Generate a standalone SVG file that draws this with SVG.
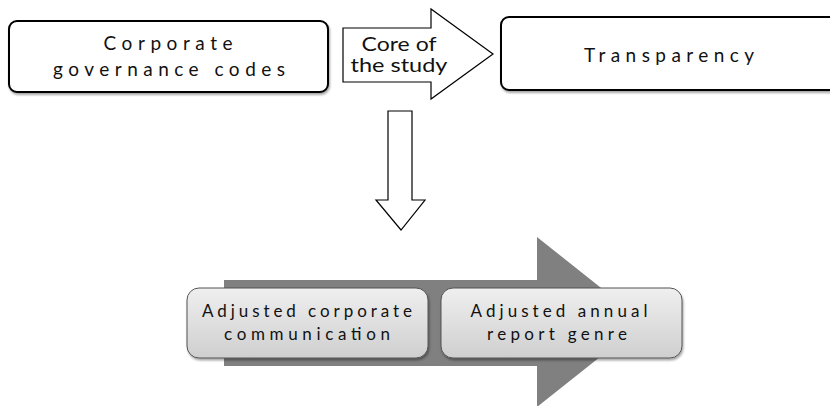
<svg xmlns="http://www.w3.org/2000/svg" width="830" height="406" viewBox="0 0 830 406">
<defs>
<linearGradient id="g" x1="0" y1="0" x2="0" y2="1">
<stop offset="0" stop-color="#efefef"/>
<stop offset="1" stop-color="#cfcfcf"/>
</linearGradient>
<filter id="sh" x="-10%" y="-10%" width="120%" height="130%">
<feDropShadow dx="1" dy="2" stdDeviation="1.2" flood-color="#000" flood-opacity="0.35"/>
</filter>
<style>
text{font-family:Lato,"Open Sans","Liberation Sans",sans-serif;fill:#111;text-anchor:middle}
.box{fill:#fff;stroke:#000;stroke-width:2}
.arr{fill:#fff;stroke:#000;stroke-width:1.2}
.gbox{fill:url(#g);stroke:#555;stroke-width:1}
.t19{font-size:19px}
.t17{font-size:17px}
</style>
</defs>
<rect width="830" height="406" fill="#fff"/>
<g id="connectors">
<polygon class="arr" points="343,28 431,28 431,9 493,54 431,99 431,82 343,82"/>
<polygon class="arr" points="388,111 412,111 412,200 425,200 401,230 376,200 388,200"/>
<polygon fill="#808080" points="224,280 537,280 537,237 644,322 537,407 537,366 224,366"/>
</g>
<g id="core-label">
<text class="t19" x="399" y="51" textLength="75" lengthAdjust="spacingAndGlyphs">Core of</text>
<text class="t19" x="399" y="72" textLength="97" lengthAdjust="spacingAndGlyphs">the study</text>
</g>
<g id="node-codes">
<rect class="box" x="9" y="21" width="319" height="71" rx="8" filter="url(#sh)"/>
<text class="t19" x="168" y="50" textLength="129" lengthAdjust="spacing">Corporate</text>
<text class="t19" x="169" y="76" textLength="232" lengthAdjust="spacing">governance codes</text>
</g>
<g id="node-transparency">
<rect class="box" x="501" y="17" width="340" height="73" rx="8" filter="url(#sh)"/>
<text class="t19" x="669" y="62" textLength="170" lengthAdjust="spacing">Transparency</text>
</g>
<g id="node-communication">
<rect class="gbox" x="187" y="288" width="241" height="70" rx="12" filter="url(#sh)"/>
<text class="t17" x="307" y="317" textLength="210" lengthAdjust="spacing">Adjusted  corporate</text>
<text class="t17" x="307" y="340" textLength="166" lengthAdjust="spacing">communication</text>
</g>
<g id="node-genre">
<rect class="gbox" x="441" y="288" width="241" height="70" rx="12" filter="url(#sh)"/>
<text class="t17" x="559" y="317" textLength="177" lengthAdjust="spacing">Adjusted annual</text>
<text class="t17" x="557" y="340" textLength="140" lengthAdjust="spacing">report genre</text>
</g>
</svg>
